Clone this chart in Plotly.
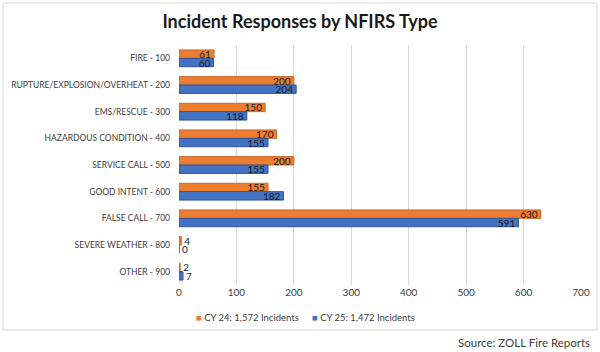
import plotly.graph_objects as go

categories = ["FIRE - 100", "RUPTURE/EXPLOSION/OVERHEAT - 200", "EMS/RESCUE - 300",
              "HAZARDOUS CONDITION - 400", "SERVICE CALL - 500", "GOOD INTENT - 600",
              "FALSE CALL - 700", "SEVERE WEATHER - 800", "OTHER - 900"]
cy24 = [61, 200, 150, 170, 200, 155, 630, 4, 2]
cy25 = [60, 204, 118, 155, 155, 182, 591, 0, 7]
series_names = ["CY 24: 1,572 Incidents", "CY 25: 1,472 Incidents"]
series_colors = ["#ED7D31", "#4472C4"]
edge_colors = ["#C8692A", "#2F5597"]
x_ticks = [0, 100, 200, 300, 400, 500, 600, 700]

FONT = "Lato"
L, R, T, B = 179, 19, 45, 67
W, H = 600, 352
pw, ph = W - L - R, H - T - B

def px_x(p):
    return (p - L) / pw

def px_y(p):
    return (H - B - p) / ph

fig = go.Figure()
for name, vals, col, edge in zip(series_names, [cy24, cy25], series_colors, edge_colors):
    fig.add_trace(go.Bar(
        y=categories, x=vals, name=name, orientation="h", showlegend=False,
        marker=dict(color=col, line=dict(color=edge, width=1)),
        text=[str(v) for v in vals],
        textposition=["inside" if v > 20 else "outside" for v in vals],
        insidetextanchor="end", textangle=0,
        textfont=dict(family=FONT, size=10, color="#1a1a1a"),
        outsidetextfont=dict(family=FONT, size=10, color="#1a1a1a"),
        insidetextfont=dict(family=FONT, size=10, color="#1a1a1a"),
        cliponaxis=False,
    ))

fig.update_layout(
    width=W, height=H,
    margin=dict(l=L, r=R, t=T, b=B),
    paper_bgcolor="white", plot_bgcolor="white",
    barmode="group", bargap=0.37, bargroupgap=0.0,
    uniformtext=dict(minsize=10, mode="show"),
    font=dict(family=FONT, color="#404040"),
    showlegend=False,
    title=dict(text="Incident Responses by NFIRS Type", x=0.5, xref="container",
               xanchor="center", y=1 - 22 / H, yanchor="middle",
               font=dict(family=FONT, size=18, color="#1a1a1a", weight="bold")),
    xaxis=dict(range=[0, 700], tickvals=x_ticks, ticktext=[str(t) for t in x_ticks],
               showgrid=True, gridcolor="#D9D9D9", gridwidth=1, zeroline=False,
               showline=False, ticks="", automargin=False,
               tickfont=dict(family=FONT, size=10, color="#404040")),
    yaxis=dict(autorange="reversed", showgrid=False, showline=False, ticks="",
               automargin=False, ticklabelstandoff=8,
               tickfont=dict(family=FONT, size=8.5, color="#404040")),
)

# legend drawn as text entries
for name, col, xpos in zip(series_names, series_colors, [194, 310]):
    fig.add_annotation(text=f"<span style='color:{col}'>■</span> {name}",
                       xref="paper", yref="paper", x=px_x(xpos), y=px_y(317),
                       xanchor="left", yanchor="middle", showarrow=False,
                       font=dict(family=FONT, size=9.5, color="#404040"))

fig.add_shape(type="rect", xref="paper", yref="paper",
              x0=px_x(3), x1=px_x(597), y0=px_y(330), y1=px_y(3),
              line=dict(color="#D9D9D9", width=1), layer="below")
fig.add_annotation(text="Source: ZOLL Fire Reports", xref="paper", yref="paper",
                   x=px_x(592), y=px_y(342), xanchor="right", yanchor="middle",
                   showarrow=False, font=dict(family=FONT, size=11.5, color="#404040"))

fig.write_html("out.html")
